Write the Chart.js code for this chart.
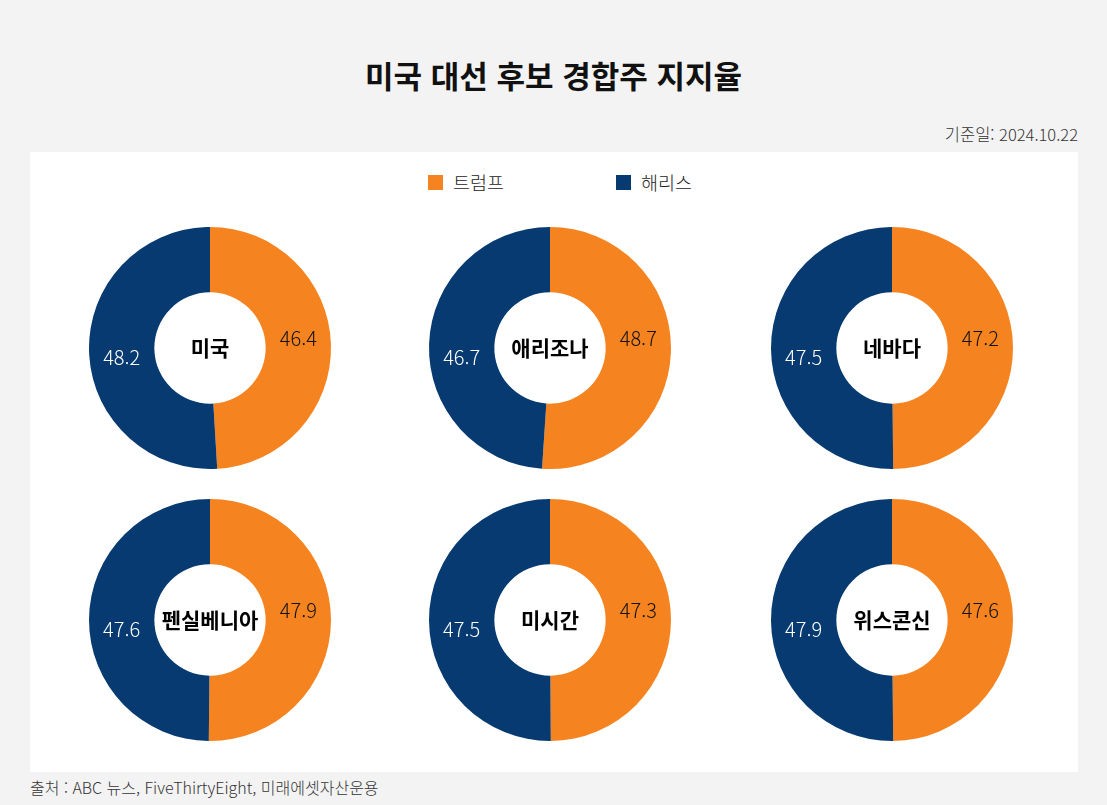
<!DOCTYPE html>
<html lang="ko">
<head>
<meta charset="utf-8">
<script src="https://cdn.jsdelivr.net/npm/chart.js@4"></script>
<style>
  body { margin: 0; width: 1107px; height: 805px; background: #f3f3f3; font-family: "Noto Sans CJK KR", "Noto Sans", sans-serif; position: relative; overflow: hidden; }
  #title { position: absolute; left: 0; width: 1107px; top: 52px; text-align: center; font-size: 31px; font-weight: 700; color: #111; }
  #date { position: absolute; right: 29px; top: 122px; font-size: 16.5px; font-weight: 300; color: #333; }
  #panel { position: absolute; left: 30px; top: 152px; width: 1048px; height: 620px; background: #fff; }
  #legend { position: absolute; top: 169px; left: 0; width: 1107px; font-size: 18.5px; font-weight: 300; color: #222; }
  .lg { position: absolute; display: flex; align-items: center; }
  .lg span { display: inline-block; width: 15px; height: 15px; margin-right: 10px; }
  .box { position: absolute; width: 250px; height: 250px; }
  #source { position: absolute; left: 30px; top: 775px; font-size: 16px; font-weight: 300; color: #333; }
</style>
</head>
<body>
<div id="title">미국 대선 후보 경합주 지지율</div>
<div id="date">기준일: 2024.10.22</div>
<div id="panel"></div>
<div id="legend"></div>
<div id="charts"></div>
<div id="source">출처 : ABC 뉴스, FiveThirtyEight, 미래에셋자산운용</div>
<script>
// 후보 / 지역 / 지지율
const candidates = ["트럼프", "해리스"];
const regions = ["미국", "애리조나", "네바다", "펜실베니아", "미시간", "위스콘신"];
const trump = [46.4, 48.7, 47.2, 47.9, 47.3, 47.6];
const harris = [48.2, 46.7, 47.5, 47.6, 47.5, 47.9];

const colors = ["#f5831f", "#063a70"];
const labelColors = ["#111", "#fff"];

// chart centres
const centres = [[210, 348], [550, 348], [892, 348], [210, 620], [550, 620], [892, 620]];

// legend
const legendX = [428, 616];
const legend = document.getElementById("legend");
candidates.forEach((c, i) => {
  const d = document.createElement("div");
  d.className = "lg";
  d.style.left = legendX[i] + "px";
  d.innerHTML = `<span style="background:${colors[i]}"></span>${c}`;
  legend.appendChild(d);
});

// Draw value labels and region name
const labelPlugin = {
  id: "labels",
  afterDatasetsDraw(chart) {
    const ctx = chart.ctx;
    const meta = chart.getDatasetMeta(0);
    const ds = chart.data.datasets[0];
    ctx.save();
    ctx.textAlign = "center";
    ctx.textBaseline = "middle";
    meta.data.forEach((arc, i) => {
      const p = arc.getProps(["x", "y", "startAngle", "endAngle", "innerRadius", "outerRadius"], true);
      const mid = (p.startAngle + p.endAngle) / 2;
      const r = (p.innerRadius + p.outerRadius) / 2;
      ctx.font = '300 20px "Noto Sans CJK KR", "Noto Sans", sans-serif';
      ctx.fillStyle = labelColors[i];
      ctx.fillText(ds.data[i].toFixed(1), p.x + Math.cos(mid) * r, p.y + (i === 0 ? -10 : 9));
    });
    const c = meta.data[0];
    ctx.font = 'bold 21px "Noto Sans CJK KR", sans-serif';
    ctx.fillStyle = "#000";
    ctx.fillText(chart.options.plugins.labels.name, c.x, c.y);
    ctx.restore();
  }
};

const wrap = document.getElementById("charts");
regions.forEach((name, k) => {
  const box = document.createElement("div");
  box.className = "box";
  box.style.left = (centres[k][0] - 125) + "px";
  box.style.top = (centres[k][1] - 125) + "px";
  const cv = document.createElement("canvas");
  box.appendChild(cv);
  wrap.appendChild(box);

  new Chart(cv.getContext("2d"), {
    type: "doughnut",
    data: {
      labels: candidates,
      datasets: [{
        data: [trump[k], harris[k]],
        backgroundColor: colors,
        borderWidth: 0
      }]
    },
    options: {
      responsive: true,
      maintainAspectRatio: false,
      animation: false,
      cutout: "46%",
      layout: { padding: 4 },
      plugins: {
        legend: { display: false },
        tooltip: { enabled: false },
        labels: { name: name }
      }
    },
    plugins: [labelPlugin]
  });
});
</script>
</body>
</html>
